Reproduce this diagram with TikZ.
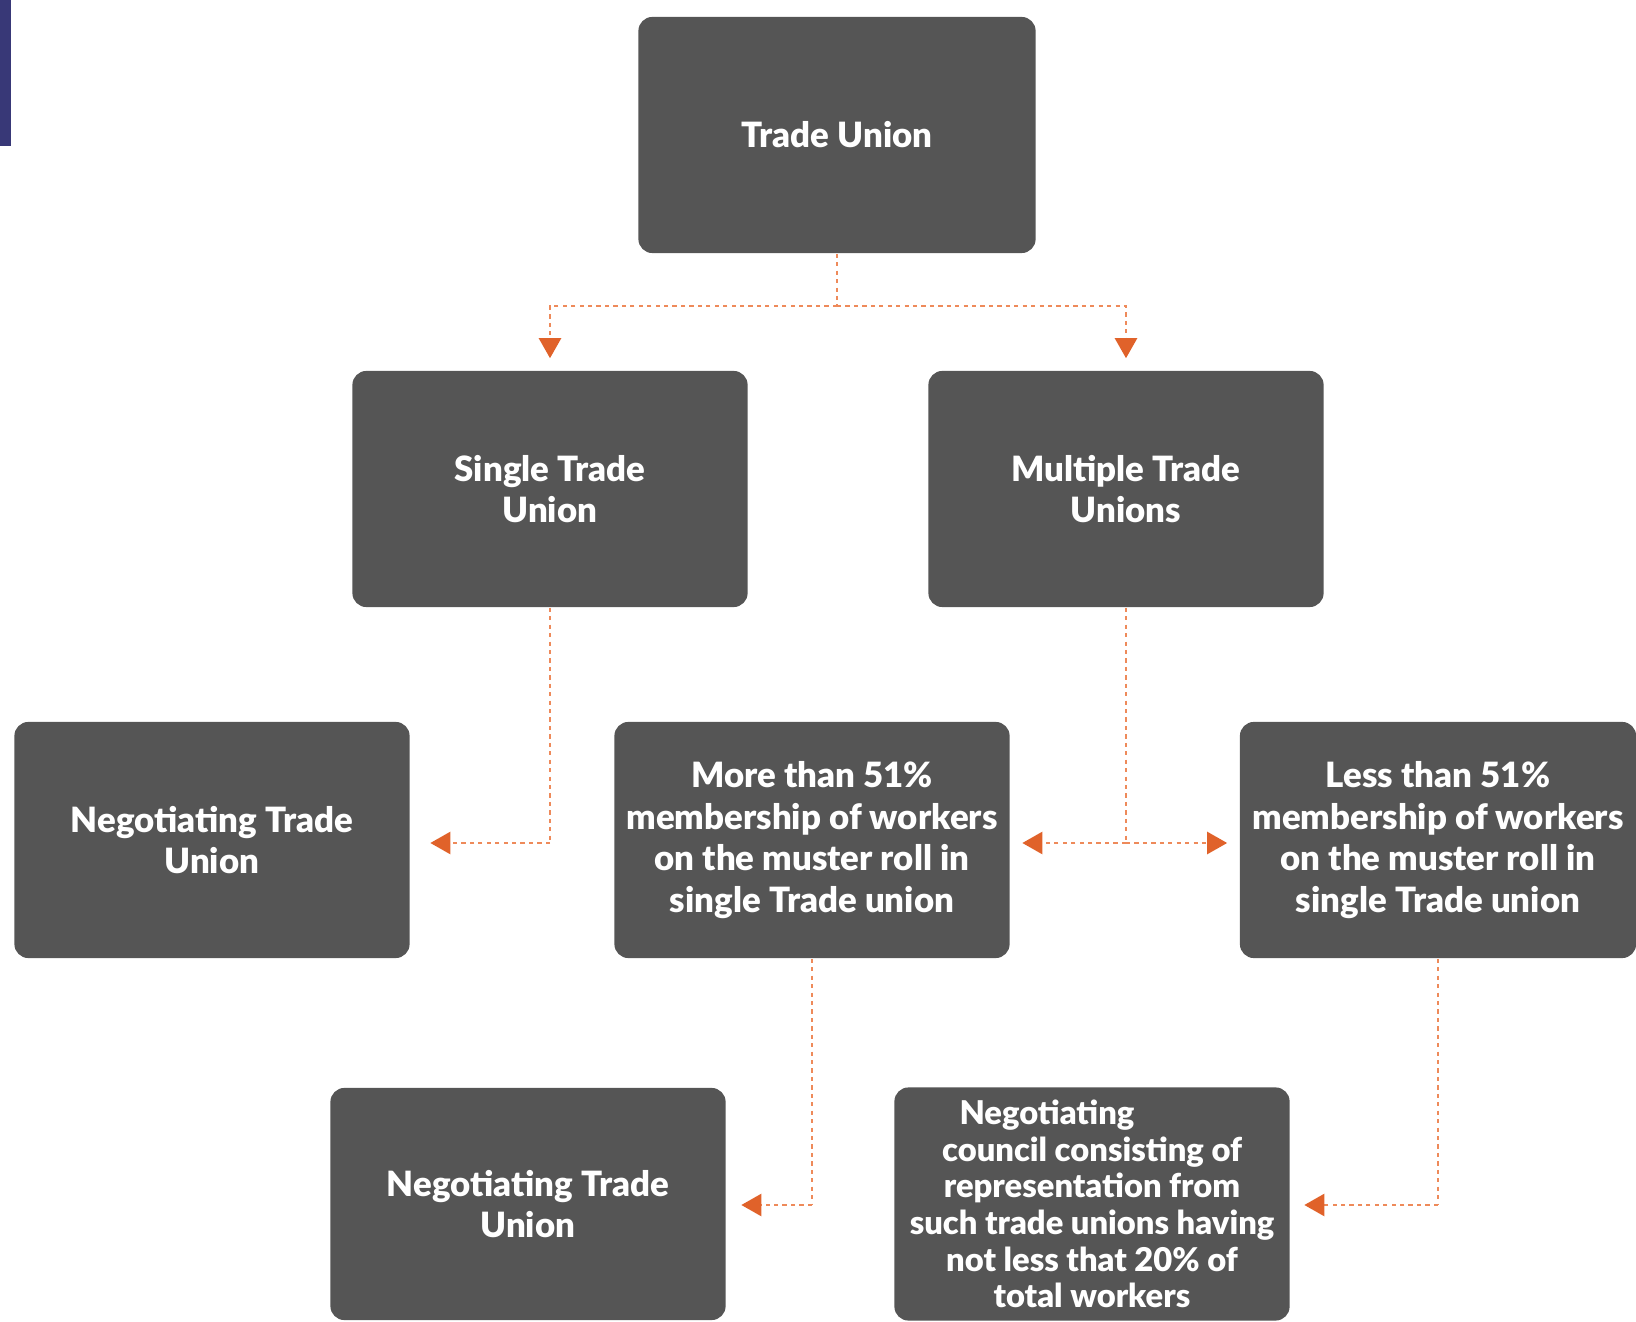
\documentclass[tikz,border=0pt]{standalone}
\usepackage{fontspec}
\setmainfont{Lato}[BoldFont={Lato Black}]
\usetikzlibrary{arrows.meta}
\definecolor{boxgray}{HTML}{555555}
\definecolor{conorange}{HTML}{EE8A5A}
\definecolor{tiporange}{HTML}{E0622A}
\definecolor{barblue}{HTML}{383877}
\begin{document}
\begin{tikzpicture}[x=0.01cm,y=-0.01cm,
  box/.style={fill=boxgray, rounded corners=0.14cm, minimum width=3.95cm, minimum height=2.36cm,
    text=white, font=\bfseries\fontsize{9.9}{11.8}\selectfont, align=center, inner sep=0pt},
  smallbox/.style={box, font=\bfseries\fontsize{9.3}{10.4}\selectfont},
  conn/.style={draw=conorange, line width=0.7pt, dash pattern=on 1.2pt off 1.2pt,
    -{Triangle[width=0.22cm,length=0.2cm,fill=tiporange,color=tiporange]}, shorten >=0.12cm},
  plain/.style={draw=conorange, line width=0.7pt, dash pattern=on 1.2pt off 1.2pt}]
\useasboundingbox (0,0) rectangle (1636,1322);
\fill[barblue] (0,0) rectangle (11,146);

\node[box, minimum width=3.97cm] (tu) at (837,135) {Trade Union};
\node[box] (single) at (550,489) {Single Trade\\Union};
\node[box] (multi) at (1126,489) {Multiple Trade\\Unions};
\node[box] (negl) at (212,840) {Negotiating Trade\\Union};
\node[box] (more) at (812,840) {More than 51\%\\membership of workers\\on the muster roll in\\single Trade union};
\node[box, minimum width=3.96cm] (less) at (1438,840) {Less than 51\%\\membership of workers\\on the muster roll in\\single Trade union};
\node[box, minimum height=2.32cm] (botl) at (528,1204) {Negotiating Trade\\Union};
\node[smallbox, minimum height=2.33cm] (botr) at (1092,1204) {Negotiating\hspace*{0.9cm}\\council consisting of\\representation from\\such trade unions having\\not less that 20\% of\\total workers};

\coordinate (split) at (tu.south |- 0,306);
\draw[plain] (tu.south) -- (split);
\draw[conn] (split) -| (single.north);
\draw[conn] (split) -| (multi.north);
\coordinate (lsplit) at (single.south |- 0,843);
\draw[plain] (single.south) -- (lsplit);
\draw[conn, shorten >=0.2cm] (lsplit) -- (lsplit -| negl.east);
\coordinate (msplit) at (multi.south |- 0,843);
\draw[plain] (multi.south) -- (msplit);
\draw[conn] (msplit) -- (msplit -| more.east);
\draw[conn] (msplit) -- (msplit -| less.west);
\coordinate (bl) at (more.south |- 0,1205);
\draw[plain] (more.south) -- (bl);
\draw[conn, shorten >=0.15cm] (bl) -- (bl -| botl.east);
\coordinate (br) at (less.south |- 0,1205);
\draw[plain] (less.south) -- (br);
\draw[conn, shorten >=0.14cm] (br) -- (br -| botr.east);
\end{tikzpicture}
\end{document}
